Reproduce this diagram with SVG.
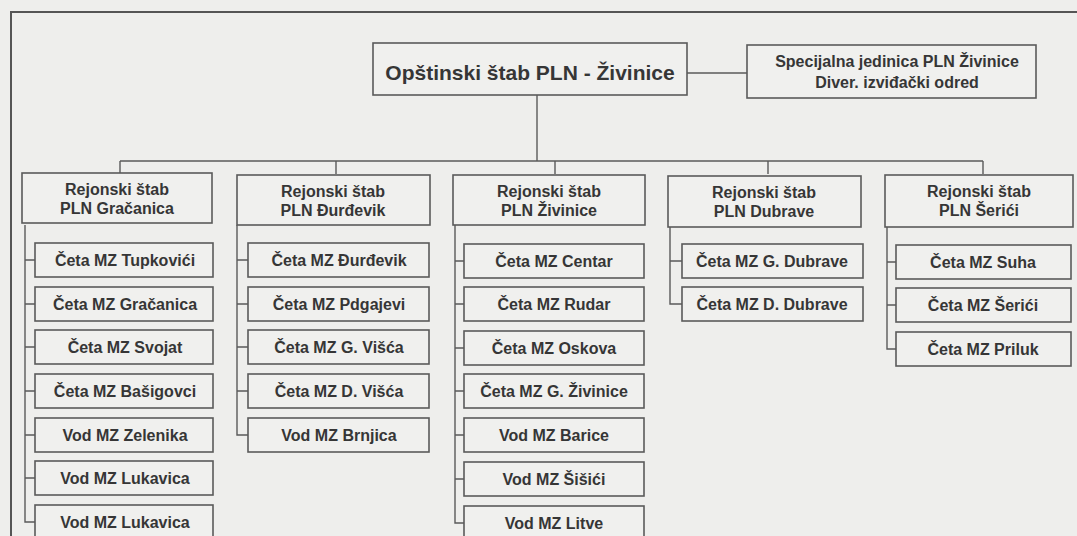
<svg xmlns="http://www.w3.org/2000/svg" width="1077" height="536" viewBox="0 0 1077 536">
<style>
.bg{fill:#eeeeec}
.box{fill:#f0f0ee;stroke:#5a5a5a;stroke-width:1.6}
.ln{fill:none;stroke:#5a5a5a;stroke-width:1.4}
.frame{fill:none;stroke:#555;stroke-width:2}
text{font-family:"Liberation Sans",Arial,Helvetica,sans-serif;font-weight:bold;fill:#363636;text-anchor:middle}
.t1{font-size:21px}
.t2{font-size:16px}
.t3{font-size:16px}
</style>
<rect class="bg" x="0" y="0" width="1077" height="536"/>
<path class="frame" d="M11,536 V12 H1077"/>

<g id="connectors">
  <path class="ln" d="M687,73 H747"/>
  <path class="ln" d="M537,95 V161"/>
  <path class="ln" d="M120,161 H983"/>
  <path class="ln" d="M120,161 V174 M336,161 V174 M555,161 V174 M768,161 V174 M983,161 V174"/>
  <path class="ln" d="M25,225 V522 H35 M25,260 H35 M25,304 H35 M25,347 H35 M25,391 H35 M25,435 H35 M25,478 H35"/>
  <path class="ln" d="M237,225 V435 H248 M237,260 H248 M237,304 H248 M237,347 H248 M237,391 H248"/>
  <path class="ln" d="M455,225 V523 H464 M455,261 H464 M455,304 H464 M455,348 H464 M455,391 H464 M455,435 H464 M455,479 H464"/>
  <path class="ln" d="M670,227 V304 H682 M670,261 H682"/>
  <path class="ln" d="M887,227 V349 H896 M887,262 H896 M887,305 H896"/>
</g>

<g id="n-top">
  <rect class="box" x="373" y="43" width="314" height="52"/>
  <text class="t1" x="530" y="80">Opštinski štab PLN - Živinice</text>
</g>
<g id="n-special">
  <rect class="box" x="747" y="45" width="289" height="53"/>
  <text class="t2" x="897" y="67">Specijalna jedinica PLN Živinice</text>
  <text class="t2" x="897" y="88">Diver. izviđački odred</text>
</g>

<g id="n-gracanica">
  <rect class="box" x="22" y="173" width="190" height="50"/>
  <text class="t2" x="117" y="195">Rejonski štab</text>
  <text class="t2" x="117" y="214">PLN Gračanica</text>
</g>
<g id="n-durdevik">
  <rect class="box" x="237" y="175" width="193" height="50"/>
  <text class="t2" x="333" y="197">Rejonski štab</text>
  <text class="t2" x="333" y="216">PLN Đurđevik</text>
</g>
<g id="n-zivinice">
  <rect class="box" x="453" y="175" width="192" height="50"/>
  <text class="t2" x="549" y="197">Rejonski štab</text>
  <text class="t2" x="549" y="216">PLN Živinice</text>
</g>
<g id="n-dubrave">
  <rect class="box" x="668" y="176" width="193" height="51"/>
  <text class="t2" x="764" y="198">Rejonski štab</text>
  <text class="t2" x="764" y="217">PLN Dubrave</text>
</g>
<g id="n-serici">
  <rect class="box" x="885" y="175" width="188" height="52"/>
  <text class="t2" x="979" y="197">Rejonski štab</text>
  <text class="t2" x="979" y="216">PLN Šerići</text>
</g>

<g id="c-tupkovici"><rect class="box" x="35" y="243" width="178" height="34"/><text class="t3" x="125" y="266">Četa MZ Tupkovići</text></g>
<g id="c-gracanica"><rect class="box" x="35" y="287" width="178" height="34"/><text class="t3" x="125" y="310">Četa MZ Gračanica</text></g>
<g id="c-svojat"><rect class="box" x="35" y="330" width="178" height="34"/><text class="t3" x="125" y="353">Četa MZ Svojat</text></g>
<g id="c-basigovci"><rect class="box" x="35" y="374" width="178" height="34"/><text class="t3" x="125" y="397">Četa MZ Bašigovci</text></g>
<g id="c-zelenika"><rect class="box" x="35" y="418" width="178" height="34"/><text class="t3" x="125" y="441">Vod MZ Zelenika</text></g>
<g id="c-lukavica1"><rect class="box" x="35" y="461" width="178" height="34"/><text class="t3" x="125" y="484">Vod MZ Lukavica</text></g>
<g id="c-lukavica2"><rect class="box" x="35" y="505" width="178" height="34"/><text class="t3" x="125" y="528">Vod MZ Lukavica</text></g>

<g id="c-durdevik"><rect class="box" x="248" y="243" width="181" height="34"/><text class="t3" x="339" y="266">Četa MZ Đurđevik</text></g>
<g id="c-pdgajevi"><rect class="box" x="248" y="287" width="181" height="34"/><text class="t3" x="339" y="310">Četa MZ Pdgajevi</text></g>
<g id="c-gvisca"><rect class="box" x="248" y="330" width="181" height="34"/><text class="t3" x="339" y="353">Četa MZ G. Višća</text></g>
<g id="c-dvisca"><rect class="box" x="248" y="374" width="181" height="34"/><text class="t3" x="339" y="397">Četa MZ D. Višća</text></g>
<g id="c-brnjica"><rect class="box" x="248" y="418" width="181" height="34"/><text class="t3" x="339" y="441">Vod MZ Brnjica</text></g>

<g id="c-centar"><rect class="box" x="464" y="244" width="180" height="34"/><text class="t3" x="554" y="267">Četa MZ Centar</text></g>
<g id="c-rudar"><rect class="box" x="464" y="287" width="180" height="34"/><text class="t3" x="554" y="310">Četa MZ Rudar</text></g>
<g id="c-oskova"><rect class="box" x="464" y="331" width="180" height="34"/><text class="t3" x="554" y="354">Četa MZ Oskova</text></g>
<g id="c-gzivinice"><rect class="box" x="464" y="374" width="180" height="34"/><text class="t3" x="554" y="397">Četa MZ G. Živinice</text></g>
<g id="c-barice"><rect class="box" x="464" y="418" width="180" height="34"/><text class="t3" x="554" y="441">Vod MZ Barice</text></g>
<g id="c-sisici"><rect class="box" x="464" y="462" width="180" height="34"/><text class="t3" x="554" y="485">Vod MZ Šišići</text></g>
<g id="c-litve"><rect class="box" x="464" y="506" width="180" height="34"/><text class="t3" x="554" y="529">Vod MZ Litve</text></g>

<g id="c-gdubrave"><rect class="box" x="682" y="244" width="181" height="34"/><text class="t3" x="772" y="267">Četa MZ G. Dubrave</text></g>
<g id="c-ddubrave"><rect class="box" x="682" y="287" width="181" height="34"/><text class="t3" x="772" y="310">Četa MZ D. Dubrave</text></g>

<g id="c-suha"><rect class="box" x="896" y="245" width="175" height="34"/><text class="t3" x="983" y="268">Četa MZ Suha</text></g>
<g id="c-serici"><rect class="box" x="896" y="288" width="175" height="34"/><text class="t3" x="983" y="311">Četa MZ Šerići</text></g>
<g id="c-priluk"><rect class="box" x="896" y="332" width="175" height="34"/><text class="t3" x="983" y="355">Četa MZ Priluk</text></g>
</svg>
